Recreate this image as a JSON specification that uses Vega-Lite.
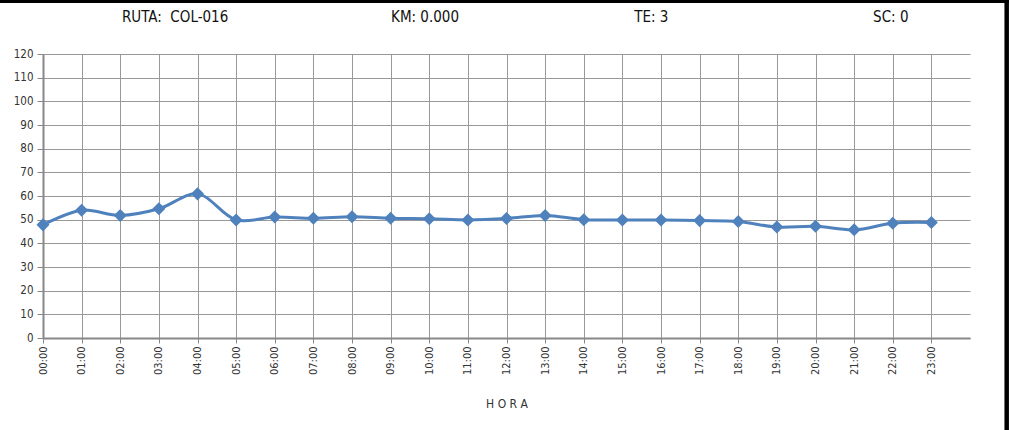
{
  "$schema": "https://vega.github.io/schema/vega-lite/v6.json",
  "width": 927,
  "height": 284,
  "autosize": {"type": "none"},
  "padding": {"left": 43, "top": 54, "right": 39, "bottom": 92},
  "background": "white",
  "config": {
    "view": {"stroke": null},
    "font": "DejaVu Sans Condensed, sans-serif",
    "axis": {
      "labelFont": "DejaVu Sans Condensed, sans-serif",
      "titleFont": "DejaVu Sans Condensed, sans-serif",
      "labelColor": "#333333",
      "tickColor": "#888888",
      "domainColor": "#888888",
      "domainWidth": 2,
      "gridColor": "#999999",
      "gridWidth": 1,
      "gridOpacity": 1,
      "labelOverlap": false,
      "labelFlush": false
    }
  },
  "datasets": {
    "serie": [
      {"h": 0, "v": 47.8},
      {"h": 1, "v": 54.0},
      {"h": 2, "v": 51.8},
      {"h": 3, "v": 54.6},
      {"h": 4, "v": 60.9},
      {"h": 5, "v": 49.9},
      {"h": 6, "v": 51.1},
      {"h": 7, "v": 50.6},
      {"h": 8, "v": 51.2},
      {"h": 9, "v": 50.6},
      {"h": 10, "v": 50.4},
      {"h": 11, "v": 49.9},
      {"h": 12, "v": 50.5},
      {"h": 13, "v": 51.8},
      {"h": 14, "v": 50.0},
      {"h": 15, "v": 49.9},
      {"h": 16, "v": 49.9},
      {"h": 17, "v": 49.6},
      {"h": 18, "v": 49.2},
      {"h": 19, "v": 46.9},
      {"h": 20, "v": 47.2},
      {"h": 21, "v": 45.7},
      {"h": 22, "v": 48.5},
      {"h": 23, "v": 48.8}
    ],
    "cabecera": [
      {"h": 3.42, "y": 135.5, "t": "RUTA:\u00a0\u00a0COL-016"},
      {"h": 9.89, "y": 135.5, "t": "KM: 0.000"},
      {"h": 15.75, "y": 135.5, "t": "TE: 3"},
      {"h": 21.95, "y": 135.5, "t": "SC: 0"}
    ]
  },
  "layer": [
    {
      "data": {"name": "serie"},
      "mark": {"type": "line", "interpolate": "catmull-rom", "color": "#4F81BD", "strokeWidth": 3},
      "encoding": {
        "x": {
          "field": "h", "type": "quantitative",
          "scale": {"domain": [0, 24], "nice": false, "zero": false},
          "axis": {
            "values": [0,1,2,3,4,5,6,7,8,9,10,11,12,13,14,15,16,17,18,19,20,21,22,23],
            "labelExpr": "(datum.value < 10 ? '0' : '') + datum.value + ':00'",
            "labelAngle": -90,
            "labelAlign": "right",
            "labelBaseline": "middle",
            "labelFontSize": 11,
            "labelPadding": 3,
            "tickSize": 5,
            "title": "H O R A",
            "titleFontSize": 12,
            "titleFontWeight": "normal",
            "titleColor": "#333333",
            "titlePadding": 24
          }
        },
        "y": {
          "field": "v", "type": "quantitative",
          "scale": {"domain": [0, 120], "nice": false},
          "axis": {
            "values": [0,10,20,30,40,50,60,70,80,90,100,110,120],
            "tickCount": 13, "labelFontSize": 11.5, "labelPadding": 4, "tickSize": 6,
            "title": null
          }
        }
      }
    },
    {
      "data": {"name": "serie"},
      "mark": {"type": "point", "shape": "diamond", "filled": true, "color": "#4F81BD", "size": 170, "opacity": 1},
      "encoding": {
        "x": {"field": "h", "type": "quantitative"},
        "y": {"field": "v", "type": "quantitative", "axis": {"values": [0,10,20,30,40,50,60,70,80,90,100,110,120], "tickCount": 13, "labelFontSize": 11.5, "labelPadding": 4, "tickSize": 6, "title": null}}
      }
    },
    {
      "data": {"name": "cabecera"},
      "mark": {"type": "text", "fontSize": 15, "color": "#111111", "align": "center", "baseline": "middle"},
      "encoding": {
        "x": {"field": "h", "type": "quantitative"},
        "y": {"field": "y", "type": "quantitative", "axis": {"values": [0,10,20,30,40,50,60,70,80,90,100,110,120], "tickCount": 13, "labelFontSize": 11.5, "labelPadding": 4, "tickSize": 6, "title": null}},
        "text": {"field": "t"}
      }
    },
    {
      "data": {"values": [{}]},
      "mark": {"type": "rule", "color": "black", "strokeWidth": 6, "strokeCap": "square"},
      "encoding": {
        "x": {"datum": -1.2, "type": "quantitative"},
        "x2": {"datum": 25.2},
        "y": {"datum": 142.8, "type": "quantitative", "axis": {"values": [0,10,20,30,40,50,60,70,80,90,100,110,120], "tickCount": 13, "labelFontSize": 11.5, "labelPadding": 4, "tickSize": 6, "title": null}}
      }
    },
    {
      "data": {"values": [{}]},
      "mark": {"type": "rule", "color": "black", "strokeWidth": 4.5},
      "encoding": {
        "x": {"datum": 24.95, "type": "quantitative"},
        "y": {"datum": 143.5, "type": "quantitative", "axis": {"values": [0,10,20,30,40,50,60,70,80,90,100,110,120], "tickCount": 13, "labelFontSize": 11.5, "labelPadding": 4, "tickSize": 6, "title": null}},
        "y2": {"datum": -40}
      }
    }
  ]
}
